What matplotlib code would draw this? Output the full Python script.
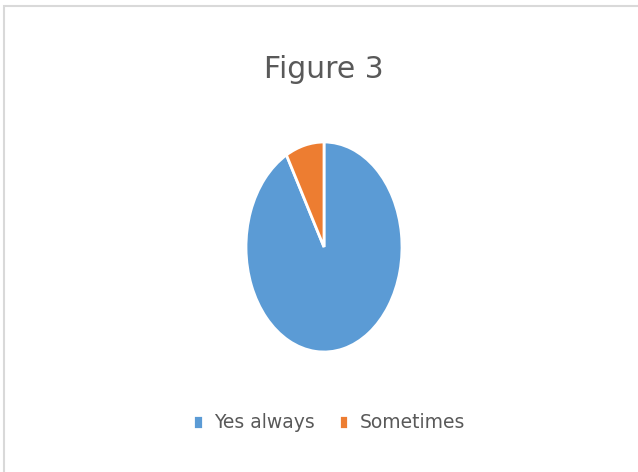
import matplotlib
matplotlib.use("Agg")
import matplotlib.pyplot as plt
from matplotlib.patches import Rectangle

labels = ["Yes always", "Sometimes"]
values = [92, 8]
colors = ["#5B9BD5", "#ED7D31"]

W, H = 638, 472
fig = plt.figure(figsize=(W / 100, H / 100), dpi=100)
plt.rcParams['font.family'] = ['DejaVu Sans']

# chart area border
fig.patches.append(Rectangle((4 / W, -0.01), 1.0, (H - 6) / H + 0.01, transform=fig.transFigure,
                             fill=False, edgecolor="#D9D9D9", linewidth=1.5))

ax = fig.add_axes([246 / W, (H - 352) / H, 156 / W, 210 / H])
wedges, _ = ax.pie(values, colors=colors, startangle=90, counterclock=False,
                   wedgeprops=dict(edgecolor="white", linewidth=2))
ax.set_aspect("auto")
ax.set_xlim(-1, 1)
ax.set_ylim(-1, 1)

fig.text(324 / W, 1 - 70 / H, "Figure 3", ha="center", va="center", fontsize=21.5, color="#595959")

fig.legend(wedges, labels, loc="center", bbox_to_anchor=(329 / W, 1 - 423 / H), ncol=2,
           frameon=False, fontsize=13.5, labelcolor="#595959", handlelength=0.5, handleheight=0.85,
           handletextpad=0.6, columnspacing=1.3)

fig.savefig("out.png", dpi=100)
